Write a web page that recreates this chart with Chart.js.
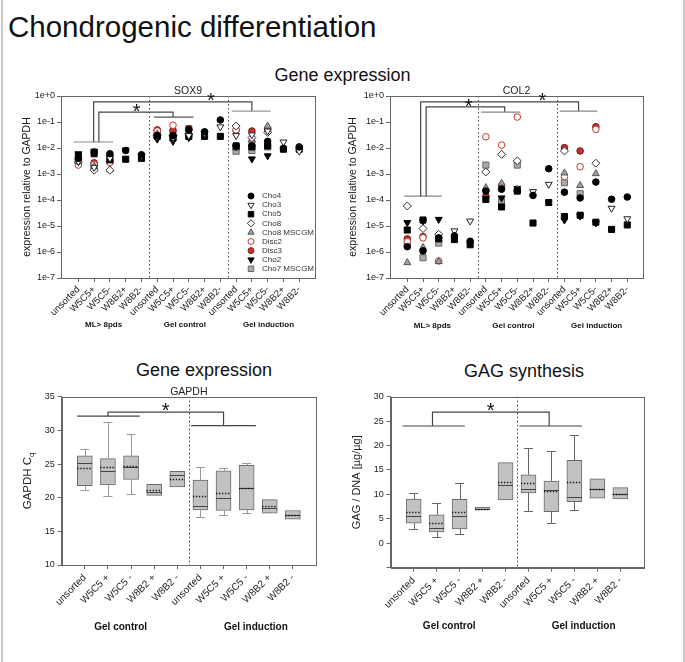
<!DOCTYPE html>
<html>
<head>
<meta charset="UTF-8">
<title>Chondrogenic differentiation</title>
<script src="https://cdn.jsdelivr.net/npm/chart.js@4.4.1/dist/chart.umd.min.js"></script>
<style>
    body { margin: 0; background: #fff; font-family: "Liberation Sans", Arial, sans-serif; }
    #page { position: relative; width: 685px; height: 662px; overflow: hidden; background: #fff; }
    #page canvas { position: absolute; }
    .head { position: absolute; color: #111; white-space: nowrap; line-height: 1; }
    .edge { position: absolute; top: 0; width: 2px; height: 662px; background: #c8c8c8; }
</style>
</head>
<body>
<div id="page">
    <div class="edge" style="left:1px"></div>
    <div class="edge" style="left:683px"></div>
    <div class="head" style="left:8px;top:12px;font-size:29.5px">Chondrogenic differentiation</div>
    <div class="head" style="left:0;width:685px;text-align:center;top:66px;font-size:18px">Gene expression</div>
    <div class="head" style="left:104px;width:200px;text-align:center;top:361px;font-size:18px">Gene expression</div>
    <div class="head" style="left:424px;width:200px;text-align:center;top:362px;font-size:18px">GAG synthesis</div>
    <canvas id="sox9" width="340" height="250" style="left:0;top:84px"></canvas>
    <canvas id="col2" width="345" height="250" style="left:340px;top:84px"></canvas>
    <canvas id="gapdh" width="340" height="282" style="left:0;top:380px"></canvas>
    <canvas id="gag" width="345" height="282" style="left:340px;top:380px"></canvas>
</div>
<script>
    // ---- data ----
    var catTop = ["unsorted", "W5C5+", "W5C5-", "W8B2+", "W8B2-",
                  "unsorted", "W5C5+", "W5C5-", "W8B2+", "W8B2-",
                  "unsorted", "W5C5+", "W5C5-", "W8B2+", "W8B2-"];
    var catBottom = ["unsorted", "W5C5 +", "W5C5 -", "W8B2 +", "W8B2 -",
                     "unsorted", "W5C5 +", "W5C5 -", "W8B2 +", "W8B2 -"];
    var groupsTop = ["ML> 8pds", "Gel control", "Gel induction"];
    var groupsBottom = ["Gel control", "Gel induction"];
    var logTicks = [1e-7, 1e-6, 1e-5, 1e-4, 1e-3, 1e-2, 1e-1, 1];

    var seriesNames = ["Cho4", "Cho3", "Cho5", "Cho8", "Cho8 MSCGM", "Disc2", "Disc3", "Cho2", "Cho7 MSCGM"];

    // SOX9, relative to GAPDH (one array per series, 15 categories)
    var sox9Cho4  = [4e-3, 7e-3, 6e-3, 8e-3, 5.5e-3, 0.03, 0.03, 0.05, 0.042, 0.12, 0.012, 0.012, 0.018, 0.0095, 0.011];
    var sox9Cho3  = [3e-3, 1.8e-3, 4e-3, 8.4e-3, 5e-3, 0.028, 0.025, 0.03, 0.037, 0.065, 0.03, 0.032, 0.045, 0.017, 0.0075];
    var sox9Cho5  = [5e-3, 6e-3, 3.5e-3, 3.7e-3, 4e-3, 0.028, 0.025, 0.028, 0.028, 0.028, 0.012, 0.011, 0.012, 0.009, 0.009];
    var sox9Cho8  = [3e-3, 1.4e-3, 1.4e-3, null, null, 0.03, 0.03, 0.035, null, null, 0.07, 0.025, 0.04, null, null];
    var sox9Cho8M = [3e-3, 2e-3, 1.45e-3, null, null, 0.035, 0.03, 0.04, null, null, 0.01, 0.02, 0.07, null, null];
    var sox9Disc2 = [2.2e-3, 2.3e-3, 2.8e-3, null, null, 0.045, 0.075, 0.05, null, null, 0.05, 0.018, 0.045, null, null];
    var sox9Disc3 = [2.8e-3, 2.7e-3, 3e-3, null, null, 0.05, 0.048, 0.055, null, null, 0.048, 0.045, 0.055, null, null];
    var sox9Cho2  = [6e-3, 7.5e-3, 4.5e-3, null, null, 0.022, 0.018, 0.025, null, null, 0.011, 0.0038, 0.005, null, null];
    var sox9Cho7M = [3.3e-3, 2e-3, 3.2e-3, null, null, 0.04, 0.038, 0.055, null, null, 0.0075, 0.008, 0.011, null, null];

    // COL2, relative to GAPDH
    var col2Cho4  = [1.6e-6, 1.1e-6, 3.5e-6, 4.2e-6, 2.6e-6, 2.2e-4, 2.6e-4, 2.3e-4, 1.5e-4, 1.6e-3, 2e-4, 1.2e-4, 4.9e-4, 1.07e-4, 1.3e-4];
    var col2Cho3  = [null, null, null, 6.5e-6, 1.55e-5, null, null, null, 2.1e-4, 4e-4, null, null, null, 4.8e-5, 1.9e-5];
    var col2Cho5  = [7e-6, 1.7e-5, 3.2e-6, 3e-6, 1.9e-6, 1.05e-4, 5.4e-5, 2.2e-4, 1.3e-5, 8e-5, 2.3e-5, 2.6e-5, 1.4e-5, 7.4e-6, 1.1e-5];
    var col2Cho8  = [5.9e-5, 8e-6, 4.8e-6, null, null, 1.2e-3, 5.7e-3, 3.2e-3, null, null, 7.7e-3, null, 2.6e-3, null, null];
    var col2Cho8M = [3.9e-7, 1.5e-6, 4.3e-7, null, null, 3e-4, 4.4e-4, 2.6e-4, null, null, 1.1e-3, 3.6e-4, 1.03e-3, null, null];
    var col2Disc2 = [2.5e-6, 3.5e-6, 4.5e-7, null, null, 0.027, 0.013, 0.155, null, null, 8e-4, 1.9e-3, 0.052, null, null];
    var col2Disc3 = [3.2e-6, 3.9e-6, null, null, null, 1.4e-4, 3.5e-4, null, null, null, 0.0103, 7.7e-3, 0.066, null, null];
    var col2Cho2  = [1.35e-5, 1.5e-5, 1.8e-5, null, null, 2e-4, 1.2e-4, 2.8e-4, null, null, 1.7e-5, 2.4e-5, 1.3e-5, null, null];
    var col2Cho7M = [2.1e-6, 6e-7, 2.2e-6, null, null, 2.2e-3, 8.7e-5, 2.2e-3, null, null, 4.6e-4, 1.75e-4, null, null, null];

    // GAPDH Cq box plots (10 categories)
    var gapdhMin  = [21.1, 20.25, 20.5, null, null, 17.2, 17.4, 17.7, null, null];
    var gapdhQ1   = [21.8, 21.9, 22.7, 20.35, 21.6, 18.2, 18.1, 18.2, 17.7, 16.8];
    var gapdhMed  = [25.2, 23.9, 24.6, 20.8, 23.3, 18.7, 19.9, 21.5, 18.4, 17.5];
    var gapdhQ3   = [26.2, 25.8, 26.2, 22.0, 23.9, 22.6, 24.0, 24.8, 19.7, 18.1];
    var gapdhMax  = [27.2, 31.2, 29.4, null, null, 24.6, 24.35, 25.2, null, null];
    var gapdhMean = [24.4, 24.5, 24.7, 21.1, 22.8, 20.3, 20.7, 21.5, 18.7, 17.5];

    // GAG / DNA box plots
    var gagMin  = [2.95, 1.3, 2.0, null, null, 6.65, 4.2, 6.85, null, null];
    var gagQ1   = [4.1, 2.3, 2.95, 6.85, 8.85, 10.3, 6.45, 8.5, 9.25, 9.1];
    var gagMed  = [5.55, 3.15, 5.5, 7.1, 12.0, 11.2, 11.0, 9.4, 11.2, 10.1];
    var gagQ3   = [9.05, 5.8, 9.0, 7.4, 16.5, 14.0, 12.75, 17.0, 13.2, 11.4];
    var gagMax  = [10.3, 8.2, 12.3, null, null, 19.5, 18.9, 22.1, null, null];
    var gagMean = [6.4, 4.1, 6.3, 7.1, 12.5, 12.3, 10.6, 12.5, 11.2, 10.1];

    // ---- styles ----
    Chart.defaults.font.family = '"Liberation Sans", Arial, sans-serif';
    Chart.defaults.color = "#222";

    var markers = [
        { style: "circle",   rot: 0,   r: 3.3, fill: "#000",    line: "#000" },
        { style: "triangle", rot: 180, r: 4.0, fill: "#fff",    line: "#222" },
        { style: "rect",     rot: 0,   r: 4.3, fill: "#000",    line: "#000" },
        { style: "rectRot",  rot: 0,   r: 4.0, fill: "#fff",    line: "#333" },
        { style: "triangle", rot: 0,   r: 4.0, fill: "#a0a0a0", line: "#555" },
        { style: "circle",   rot: 0,   r: 3.3, fill: "#fff",    line: "#c0392b" },
        { style: "circle",   rot: 0,   r: 3.3, fill: "#c8302c", line: "#7a1a17" },
        { style: "triangle", rot: 180, r: 4.0, fill: "#000",    line: "#000" },
        { style: "rect",     rot: 0,   r: 4.3, fill: "#aaa",    line: "#666" }
    ];

    // frame, dotted dividers, brackets, stars, group labels, legend, box extras
    var decor = {
        id: "decor",
        beforeDatasetsDraw: function (chart, args, o) {
            var ctx = chart.ctx, a = chart.chartArea, xs = chart.scales.x;
            ctx.save();
            ctx.strokeStyle = "#444";
            ctx.lineWidth = 1;
            ctx.setLineDash([1.5, 2.5]);
            (o.dividers || []).forEach(function (v) {
                var px = Math.round(xs.getPixelForValue(v)) + 0.5;
                ctx.beginPath();
                ctx.moveTo(px, a.top);
                ctx.lineTo(px, a.bottom);
                ctx.stroke();
            });
            ctx.restore();
        },
        afterDatasetsDraw: function (chart, args, o) {
            var ctx = chart.ctx, a = chart.chartArea, xs = chart.scales.x, ys = chart.scales.y;
            ctx.save();

            // box plot extras
            if (o.box) {
                var b = o.box;
                for (var i = 0; i < b.med.length; i++) {
                    var cx = xs.getPixelForValue(i);
                    ctx.setLineDash([]);
                    ctx.strokeStyle = b.whisker;
                    ctx.lineWidth = 1;
                    [[b.q3[i], b.max[i]], [b.q1[i], b.min[i]]].forEach(function (w) {
                        if (w[1] == null) return;
                        var p0 = ys.getPixelForValue(w[0]), p1 = Math.round(ys.getPixelForValue(w[1])) + 0.5;
                        ctx.beginPath();
                        ctx.moveTo(Math.round(cx) + 0.5, p0);
                        ctx.lineTo(Math.round(cx) + 0.5, p1);
                        ctx.moveTo(cx - 4.5, p1);
                        ctx.lineTo(cx + 4.5, p1);
                        ctx.stroke();
                    });
                    var hw = b.half;
                    ctx.strokeStyle = "#444";
                    ctx.lineWidth = 1;
                    var pm = Math.round(ys.getPixelForValue(b.med[i])) + 0.5;
                    ctx.beginPath();
                    ctx.moveTo(cx - hw, pm);
                    ctx.lineTo(cx + hw, pm);
                    ctx.stroke();
                    ctx.strokeStyle = "#111";
                    ctx.lineWidth = 1.3;
                    ctx.setLineDash([1.3, 1.7]);
                    var pa = Math.round(ys.getPixelForValue(b.mean[i])) + 0.5;
                    ctx.beginPath();
                    ctx.moveTo(cx - hw, pa);
                    ctx.lineTo(cx + hw, pa);
                    ctx.stroke();
                }
                ctx.setLineDash([]);
            }

            // frame around plot
            ctx.strokeStyle = "#666";
            ctx.lineWidth = 1;
            ctx.strokeRect(Math.round(a.left) + 0.5, Math.round(a.top) + 0.5,
                Math.round(a.right - a.left), Math.round(a.bottom - a.top));

            // brackets
            (o.brackets || []).forEach(function (br) {
                ctx.strokeStyle = br.c;
                ctx.lineWidth = 1.2;
                ctx.beginPath();
                br.pts.forEach(function (p, k) {
                    var px = xs.getPixelForValue(p[0]), py = ys.getPixelForValue(p[1]);
                    if (k === 0) ctx.moveTo(px, py); else ctx.lineTo(px, py);
                });
                ctx.stroke();
            });

            // stars
            ctx.fillStyle = "#111";
            ctx.textAlign = "center";
            ctx.textBaseline = "alphabetic";
            ctx.font = "20px 'Liberation Sans', Arial, sans-serif";
            (o.stars || []).forEach(function (s) {
                ctx.fillText("*", xs.getPixelForValue(s[0]), ys.getPixelForValue(s[1]) + 11);
            });

            // panel subtitle
            if (o.sub) {
                ctx.font = "10.5px 'Liberation Sans', Arial, sans-serif";
                ctx.textBaseline = "alphabetic";
                ctx.fillStyle = "#222";
                ctx.fillText(o.sub, (a.left + a.right) / 2, a.top - 2);
            }

            // group labels under the axis
            ctx.font = "bold " + o.groupSize + "px 'Liberation Sans', Arial, sans-serif";
            ctx.textBaseline = "middle";
            ctx.fillStyle = "#111";
            (o.groups || []).forEach(function (g, k) {
                ctx.fillText(o.groupText[k], xs.getPixelForValue(g), a.bottom + o.groupDy);
            });

            // legend inside the plot
            if (o.legend) {
                ctx.font = "8px 'Liberation Sans', Arial, sans-serif";
                ctx.textAlign = "left";
                ctx.textBaseline = "middle";
                chart.data.datasets.forEach(function (ds, k) {
                    var m = markers[k];
                    var lx = a.right - 64, ly = a.top + 100 + k * 9.1;
                    ctx.fillStyle = m.fill;
                    ctx.strokeStyle = m.line;
                    ctx.lineWidth = 1;
                    Chart.helpers.drawPoint(ctx, { pointStyle: m.style, rotation: m.rot, radius: m.r * 0.9, borderWidth: 1 }, lx, ly);
                    ctx.fillStyle = "#333";
                    ctx.fillText(ds.label, lx + 11, ly);
                });
            }

            // y title with subscript
            if (o.ySub) {
                ctx.translate(o.ySub.x, (a.top + a.bottom) / 2);
                ctx.rotate(-Math.PI / 2);
                ctx.fillStyle = "#222";
                ctx.textAlign = "left";
                ctx.textBaseline = "alphabetic";
                ctx.font = "11.5px 'Liberation Sans', Arial, sans-serif";
                var w1 = ctx.measureText(o.ySub.main).width;
                ctx.font = "8px 'Liberation Sans', Arial, sans-serif";
                var w2 = ctx.measureText(o.ySub.sub).width;
                var sx = -(w1 + w2) / 2;
                ctx.font = "11.5px 'Liberation Sans', Arial, sans-serif";
                ctx.fillText(o.ySub.main, sx, 4);
                ctx.font = "8px 'Liberation Sans', Arial, sans-serif";
                ctx.fillText(o.ySub.sub, sx + w1, 7);
            }
            ctx.restore();
        }
    };

    function axisGrid() {
        return { display: true, drawOnChartArea: false, drawTicks: true, tickLength: 4, color: "#666" };
    }

    function exprChart(id, series, yw, padRight, titlePad, sub, legend, brackets, stars, groupDy) {
        var datasets = seriesNames.map(function (name, k) {
            var m = markers[k];
            var pts = [];
            series[k].forEach(function (v, i) { if (v != null) pts.push({ x: i, y: v }); });
            return {
                label: name,
                data: pts,
                pointStyle: m.style,
                pointRotation: m.rot,
                pointRadius: m.r,
                pointBackgroundColor: m.fill,
                pointBorderColor: m.line,
                backgroundColor: m.fill,
                borderColor: m.line,
                pointBorderWidth: 1
            };
        });
        return new Chart(document.getElementById(id).getContext("2d"), {
            type: "scatter",
            data: { datasets: datasets },
            options: {
                responsive: false,
                animation: false,
                layout: { padding: { top: 12, right: padRight, left: 0, bottom: 0 } },
                plugins: {
                    legend: { display: false },
                    tooltip: { enabled: false },
                    decor: {
                        sub: sub, legend: legend, brackets: brackets, stars: stars,
                        dividers: [4.5, 9.5], groups: [1.6, 6.75, 12.05], groupText: groupsTop,
                        groupSize: 8, groupDy: groupDy
                    }
                },
                scales: {
                    x: {
                        type: "linear", min: -1.1, max: 15, offset: false,
                        afterBuildTicks: function (s) { s.ticks = catTop.map(function (c, i) { return { value: i }; }); },
                        afterFit: function (s) { s.height = 56; },
                        ticks: {
                            autoSkip: false, minRotation: 45, maxRotation: 45, padding: 2,
                            font: { size: 9.5 }, color: "#222",
                            callback: function (v) { return catTop[v]; }
                        },
                        grid: axisGrid(),
                        border: { display: true, color: "#666" }
                    },
                    y: {
                        type: "logarithmic", min: 1e-7, max: 1,
                        afterBuildTicks: function (s) { s.ticks = logTicks.map(function (v) { return { value: v }; }); },
                        afterFit: function (s) { s.width = yw; },
                        ticks: {
                            padding: 2, font: { size: 9 }, color: "#222",
                            callback: function (v) { return Number(v).toExponential(0); }
                        },
                        title: {
                            display: true, text: "expression relative to GAPDH", color: "#222",
                            font: { size: 10.5 }, padding: { top: titlePad, bottom: 0 }
                        },
                        grid: axisGrid(),
                        border: { display: true, color: "#666" }
                    }
                }
            },
            plugins: [decor]
        });
    }

    function boxChart(id, q1, med, q3, lo, hi, mean, ymin, ymax, yw, padRight, xh, extra) {
        var boxes = q1.map(function (v, i) { return { x: i, y: [q1[i], q3[i]] }; });
        var yScale = {
            type: "linear", min: ymin, max: ymax,
            afterFit: function (s) { s.width = yw; },
            ticks: {
                stepSize: 5, padding: 3, font: { size: 9 }, color: "#222",
                callback: function (v) { return v < 0 ? "" : v; }
            },
            grid: axisGrid(),
            border: { display: true, color: "#666" }
        };
        if (extra.yTitle) {
            yScale.title = { display: true, text: extra.yTitle, color: "#222", font: { size: 11 }, padding: { top: extra.titlePad, bottom: 0 } };
        }
        return new Chart(document.getElementById(id).getContext("2d"), {
            type: "bar",
            data: {
                datasets: [{
                    data: boxes,
                    backgroundColor: "#c2c2c2",
                    borderColor: "#6a6a6a",
                    borderWidth: 1,
                    borderSkipped: false,
                    barThickness: 15
                }]
            },
            options: {
                responsive: false,
                animation: false,
                layout: { padding: { top: 16.7, right: padRight, left: 0, bottom: 0 } },
                plugins: {
                    legend: { display: false },
                    tooltip: { enabled: false },
                    decor: {
                        sub: extra.sub, dividers: [4.5], brackets: extra.brackets, stars: extra.stars,
                        groups: [1.55, 7.4], groupText: groupsBottom, groupSize: 10, groupDy: extra.groupDy,
                        ySub: extra.ySub,
                        box: { q1: q1, med: med, q3: q3, min: lo, max: hi, mean: mean, half: 7.5, whisker: extra.whisker }
                    }
                },
                scales: {
                    x: {
                        type: "linear", min: -1, max: 10, offset: false,
                        afterBuildTicks: function (s) { s.ticks = catBottom.map(function (c, i) { return { value: i }; }); },
                        afterFit: function (s) { s.height = xh; },
                        ticks: {
                            autoSkip: false, minRotation: 45, maxRotation: 45, padding: 3,
                            font: { size: 10 }, color: "#222",
                            callback: function (v) { return catBottom[v]; }
                        },
                        grid: { display: true, drawOnChartArea: false, drawTicks: true, tickLength: 4, color: "#666", offset: false },
                        border: { display: true, color: "#666" }
                    },
                    y: yScale
                }
            },
            plugins: [decor]
        });
    }

    exprChart("sox9",
        [sox9Cho4, sox9Cho3, sox9Cho5, sox9Cho8, sox9Cho8M, sox9Disc2, sox9Disc3, sox9Cho2, sox9Cho7M],
        61, 25, 20.7, "SOX9", true,
        [
            { c: "#888", pts: [[-0.3, 0.017], [2.2, 0.017]] },
            { c: "#444", pts: [[0.97, 0.017], [0.97, 0.59], [11.0, 0.59], [11.0, 0.26]] },
            { c: "#999", pts: [[9.75, 0.26], [12.2, 0.26]] },
            { c: "#444", pts: [[1.3, 0.017], [1.3, 0.24], [6.0, 0.24], [6.0, 0.155]] },
            { c: "#555", pts: [[4.8, 0.155], [7.3, 0.155]] }
        ],
        [[3.7, 0.38], [8.4, 1.0]], 47);

    exprChart("col2",
        [col2Cho4, col2Cho3, col2Cho5, col2Cho8, col2Cho8M, col2Disc2, col2Disc3, col2Cho2, col2Cho7M],
        50, 42, 6.7, "COL2", false,
        [
            { c: "#888", pts: [[-0.2, 1.4e-4], [2.2, 1.4e-4]] },
            { c: "#444", pts: [[0.85, 1.4e-4], [0.85, 0.59], [10.9, 0.59], [10.9, 0.26]] },
            { c: "#888", pts: [[9.7, 0.26], [12.1, 0.26]] },
            { c: "#444", pts: [[1.2, 1.4e-4], [1.2, 0.38], [6.2, 0.38], [6.2, 0.24]] },
            { c: "#888", pts: [[4.7, 0.24], [7.2, 0.24]] }
        ],
        [[3.9, 0.59], [8.6, 1.0]], 48);

    boxChart("gapdh", gapdhQ1, gapdhMed, gapdhQ3, gapdhMin, gapdhMax, gapdhMean,
        10, 35, 61.7, 24, 97, {
            sub: "GAPDH",
            ySub: { x: 27, main: "GAPDH C", sub: "q" },
            whisker: "#999",
            groupDy: 62,
            brackets: [
                { c: "#444", pts: [[-0.33, 32.1], [2.37, 32.1]] },
                { c: "#444", pts: [[1.0, 32.1], [1.0, 32.7], [6.0, 32.7], [6.0, 30.7]] },
                { c: "#444", pts: [[4.6, 30.7], [7.4, 30.7]] }
            ],
            stars: [[3.5, 33.6]]
        });

    boxChart("gag", gagQ1, gagMed, gagQ3, gagMin, gagMax, gagMean,
        -5, 30, 50.7, 41.7, 94.3, {
            yTitle: "GAG / DNA [µg/µg]",
            titlePad: 10.4,
            whisker: "#666",
            groupDy: 59,
            brackets: [
                { c: "#444", pts: [[-0.49, 24], [2.23, 24]] },
                { c: "#444", pts: [[0.82, 24], [0.82, 26.85], [5.9, 26.85], [5.9, 24]] },
                { c: "#444", pts: [[4.6, 24], [7.33, 24]] }
            ],
            stars: [[3.35, 28.1]]
        });
</script>
</body>
</html>
